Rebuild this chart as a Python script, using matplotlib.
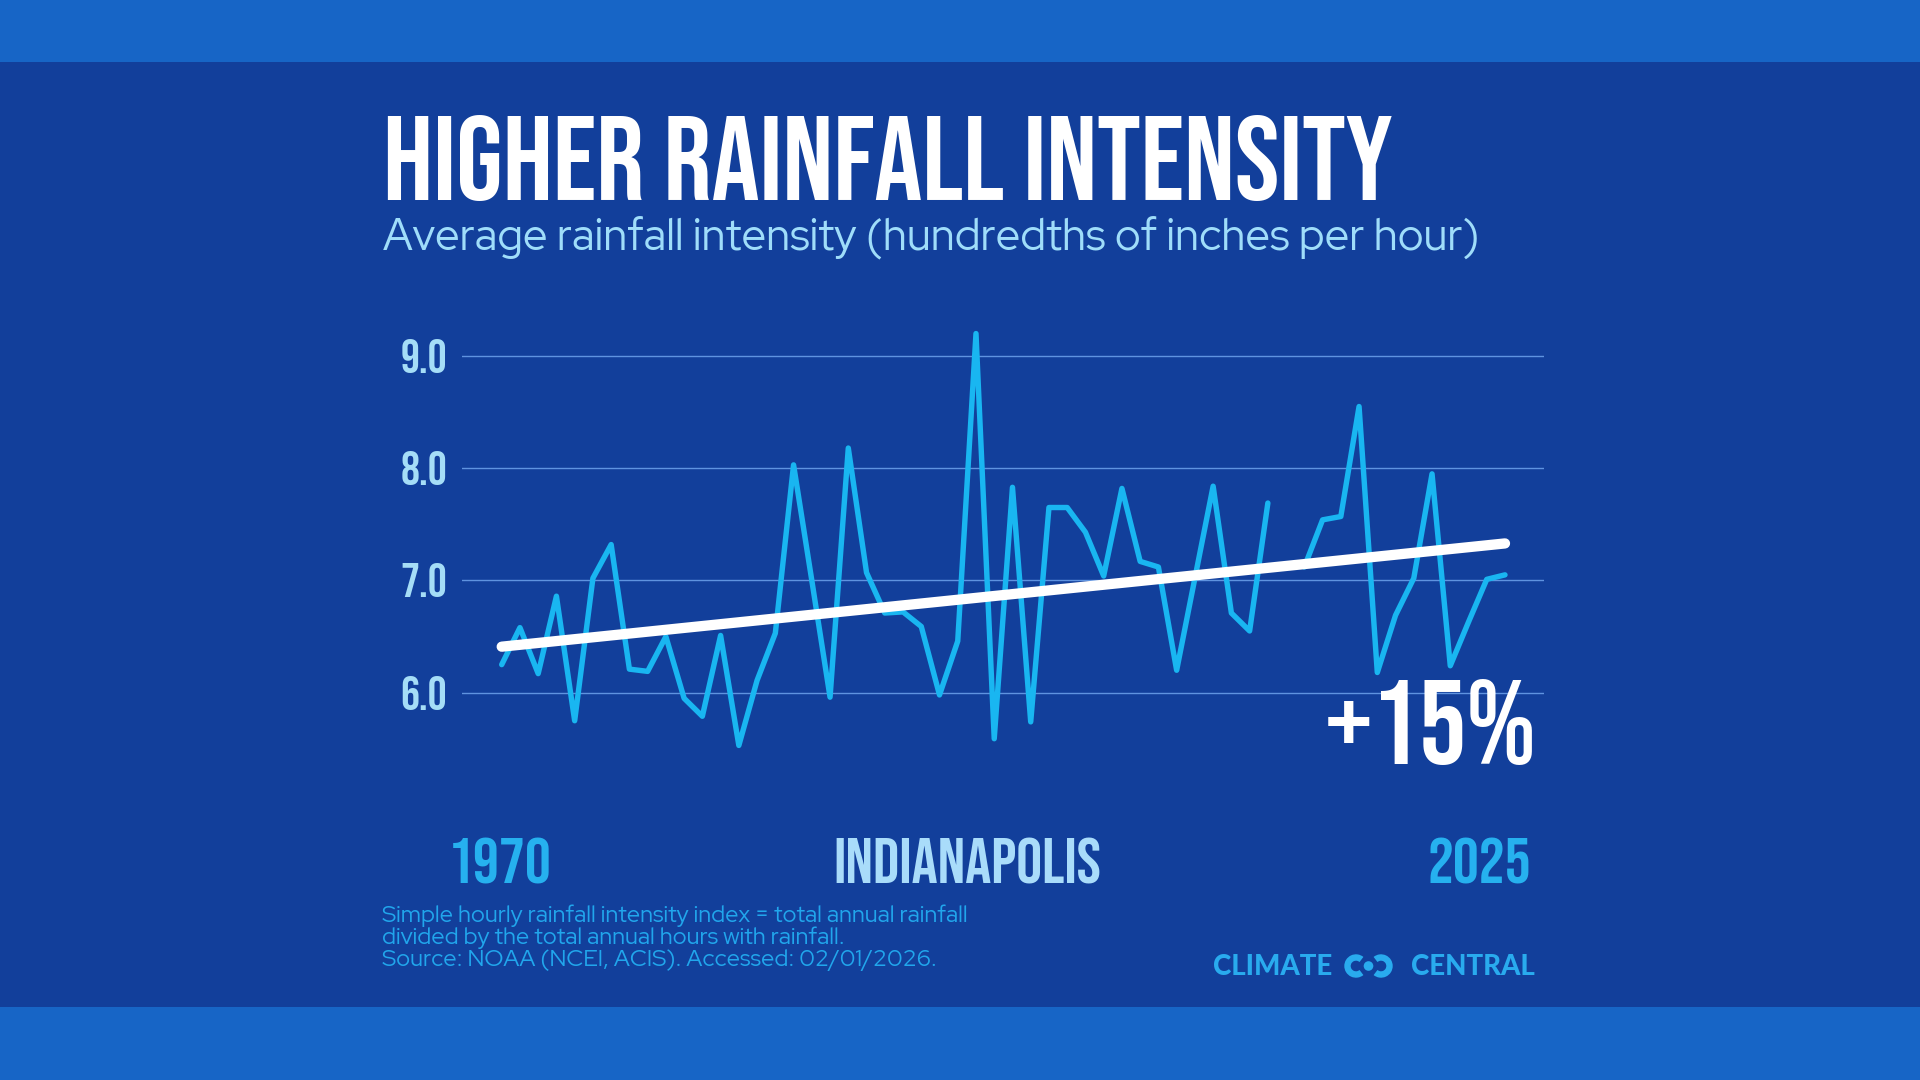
import numpy as np
import matplotlib
matplotlib.use("Agg")
import matplotlib.pyplot as plt
from matplotlib import font_manager as fm
from matplotlib.patches import Rectangle, Circle, Arc

# ---------------- data ----------------
years = list(range(1970, 2026))
intensity = [6.25, 6.58, 6.17, 6.86, 5.75, 7.02, 7.32, 6.21, 6.19, 6.50,
             5.95, 5.79, 6.51, 5.53, 6.11, 6.53, 8.03, 7.00, 5.96, 8.18,
             7.07, 6.71, 6.72, 6.59, 5.98, 6.46, 9.20, 5.59, 7.83, 5.74,
             7.65, 7.65, 7.43, 7.04, 7.82, 7.17, 7.12, 6.20, 7.02, 7.84,
             6.71, 6.55, 7.69, np.nan, 7.12, 7.54, 7.57, 8.55, 6.18, 6.69,
             7.02, 7.95, 6.24, 6.63, 7.01, 7.05]
trend_years = [1970, 2025]
trend_values = [6.41, 7.33]
ytick_values = [6.0, 7.0, 8.0, 9.0]
ytick_labels = ["6.0", "7.0", "8.0", "9.0"]

title = "HIGHER RAINFALL INTENSITY"
subtitle = "Average rainfall intensity (hundredths of inches per hour)"
change_label = "+15%"
start_label, city_label, end_label = "1970", "INDIANAPOLIS", "2025"
footnote = ["Simple hourly rainfall intensity index = total annual rainfall",
            "divided by the total annual hours with rainfall.",
            "Source: NOAA (NCEI, ACIS). Accessed: 02/01/2026."]
logo_words = ["CLIMATE", "CENTRAL"]

# ---------------- fonts ----------------
AVAILABLE = {f.name for f in fm.fontManager.ttflist}

def first_available(cands, default="DejaVu Sans"):
    for c in cands:
        if c in AVAILABLE:
            return c
    return default

COND_FAM = first_available(["Bebas Neue", "Oswald", "Fira Sans Extra Condensed"])
TEXT_FAM = first_available(["Red Hat Display", "Red Hat Text", "Lato"])
LOGO_FAM = first_available(["Lato", "Open Sans"])

def cond(size):
    w = "normal" if COND_FAM == "Bebas Neue" else "bold"
    return fm.FontProperties(family=[COND_FAM, "DejaVu Sans"], weight=w, size=size)

def body(size, weight="normal"):
    return fm.FontProperties(family=[TEXT_FAM, "DejaVu Sans"], weight=weight, size=size)

def logo(size):
    return fm.FontProperties(family=[LOGO_FAM, "DejaVu Sans"], weight="black", size=size)

# ---------------- figure ----------------
W, H = 1920, 1080
fig = plt.figure(figsize=(W / 100, H / 100), dpi=100)
fig.patch.set_facecolor("#1765C6")

def fx(px):
    return px / W

def fy(py):
    return 1 - py / H

fig.patches.append(Rectangle((0, fy(1007)), 1, fy(62) - fy(1007),
                             transform=fig.transFigure, facecolor="#123F9B",
                             edgecolor="none", zorder=-5))

# axes placement (pixels)
L, R, T, B = 462, 1544, 300, 800
ax = fig.add_axes([fx(L), fy(B), fx(R) - fx(L), fy(T) - fy(B)])
ax.set_facecolor("none")
ppy = (1505 - 501.7) / 55.0
ax.set_xlim(1970 - (501.7 - L) / ppy, 2025 + (R - 1505) / ppy)
ppu = (692.7 - 356.0) / 3.0
ax.set_ylim(6.0 - (B - 692.7) / ppu, 9.0 + (356.0 - T) / ppu)

for v in ytick_values:
    ax.axhline(v, color="#5F93E0", lw=1.0, zorder=1)

ax.plot(years, intensity, color="#19B6F1", lw=3.9, zorder=3, clip_on=False,
        solid_joinstyle="round", solid_capstyle="round")
ax.plot(trend_years, trend_values, color="white", lw=7.4, zorder=4,
        solid_capstyle="round", clip_on=False)

for s in ax.spines.values():
    s.set_visible(False)
ax.set_xticks([])
ax.set_yticks(ytick_values)
ax.set_yticklabels(ytick_labels, fontproperties=cond(34), color="#A5DDF7")
ax.tick_params(axis="y", length=0, pad=10.8)

# ---------------- texts ----------------
fig.canvas.draw()
r = fig.canvas.get_renderer()

def fit(t, target_w):
    """scale a text's font size so that its rendered width matches target_w px"""
    w = t.get_window_extent(r).width
    if w > 0:
        t.set_fontsize(t.get_fontsize() * target_w / w)
    return t

fit(fig.text(fx(383), fy(200), title, fontproperties=cond(80), color="white",
             ha="left", va="baseline"), 1010)
fit(fig.text(fx(383), fy(250), subtitle, fontproperties=body(31), color="#9FDDFA",
             ha="left", va="baseline"), 1095)
fit(fig.text(fx(1537), fy(764), change_label, fontproperties=cond(80), color="white",
             ha="right", va="baseline"), 212)
t_city = fit(fig.text(fx(967.5), fy(883), city_label, fontproperties=cond(48),
                      color="#A9DCFA", ha="center", va="baseline"), 269)
city_size = t_city.get_fontsize()
fig.text(fx(448), fy(883), start_label, fontproperties=cond(city_size), color="#26B1EF",
         ha="left", va="baseline")
fig.text(fx(1531), fy(883), end_label, fontproperties=cond(city_size),
         color="#26B1EF", ha="right", va="baseline")

foot_base = [922, 944, 966]
tf = []
for line, yb in zip(footnote, foot_base):
    tf.append(fig.text(fx(382), fy(yb), line, fontproperties=body(16), color="#21A6EC",
                       ha="left", va="baseline"))
fit(tf[0], 587)
for t in tf[1:]:
    t.set_fontsize(tf[0].get_fontsize())

logo_col = "#29ABEE"
t_cl = fit(fig.text(fx(1213), fy(975), logo_words[0], fontproperties=logo(19),
                    color=logo_col, ha="left", va="baseline"), 119)
fig.text(fx(1535), fy(975), logo_words[1], fontproperties=logo(t_cl.get_fontsize()),
         color=logo_col, ha="right", va="baseline")

# logo mark: two open rings and a dot
icon_ax = fig.add_axes([fx(1340), fy(980), fx(1396) - fx(1340), fy(952) - fy(980)])
icon_ax.set_xlim(1340, 1396)
icon_ax.set_ylim(980, 952)
icon_ax.set_aspect("equal")
icon_ax.axis("off")
icon_ax.add_patch(Arc((1356, 966), 17, 17, theta1=50, theta2=310, lw=4.6, color=logo_col))
icon_ax.add_patch(Arc((1381, 966), 17, 17, theta1=-130, theta2=130, lw=4.6, color=logo_col))
icon_ax.add_patch(Circle((1368.5, 966), 4.8, color=logo_col, lw=0))

fig.savefig("out.png", dpi=100, facecolor=fig.get_facecolor())
